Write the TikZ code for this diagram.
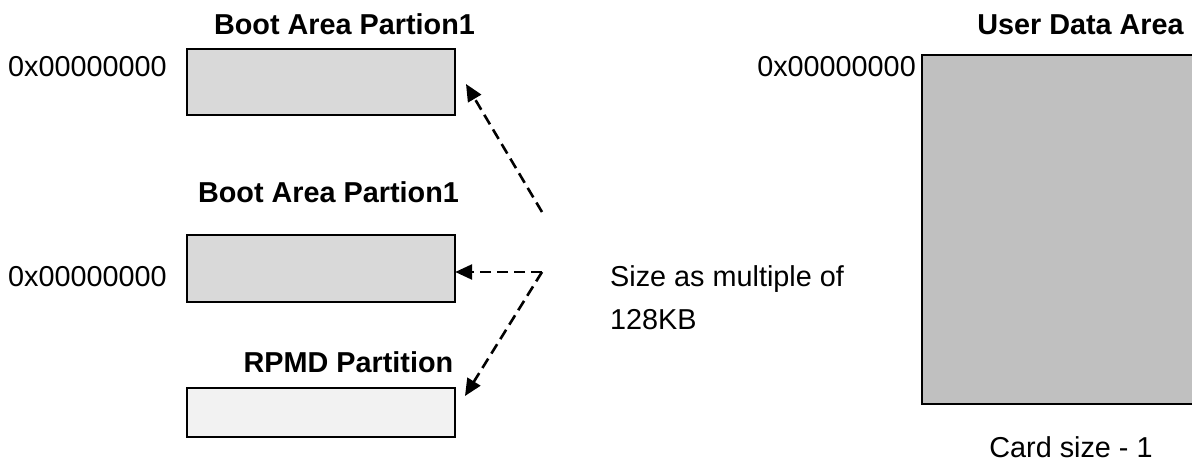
\documentclass[tikz,border=0pt]{standalone}
\usepackage{fontspec}
\setmainfont{Liberation Sans}
\usetikzlibrary{arrows.meta}
\tikzset{
  txt/.style={inner sep=0pt, font=\fontsize{28.8}{43}\selectfont},
  ttl/.style={txt, font=\fontsize{28.8}{43}\selectfont\bfseries},
  part/.style={draw=black, line width=1.6pt},
  link/.style={dash pattern=on 11pt off 6pt, line width=2.6pt,
    -{Triangle[length=17pt,width=15pt]}},
}
\begin{document}
\begin{tikzpicture}[x=1pt,y=-1pt]
\useasboundingbox (0,0) rectangle (1192,462);
\clip (0,0) rectangle (1192,462);
% boxes
\path[part, fill={rgb,255:red,217;green,217;blue,217}] (187,49) rectangle (455,115);
\node[inner sep=0pt, minimum width=268pt, minimum height=66pt] (b1) at (321,82) {};
\path[part, fill={rgb,255:red,217;green,217;blue,217}] (187,235) rectangle (455,302);
\node[inner sep=0pt, minimum width=268pt, minimum height=67pt] (b2) at (321,268.5) {};
\path[part, fill={rgb,255:red,242;green,242;blue,242}] (187,388) rectangle (455,437);
\node[inner sep=0pt, minimum width=268pt, minimum height=49pt] (b3) at (321,412.5) {};
\path[part, fill={rgb,255:red,192;green,192;blue,192}] (922,55) rectangle (1210,404);
\node[inner sep=0pt] (ud) at (1066,229.5) {};
% titles
\node[ttl, anchor=base] (t1) at (344.5,35) {Boot Area Partion1};
\node[ttl, anchor=base] (t2) at (328.5,203) {Boot Area Partion1};
\node[ttl, anchor=base] (t3) at (348.5,373) {RPMD Partition};
\node[ttl, anchor=base] (t4) at (1080.5,35) {User Data Area};
% address labels
\node[txt, anchor=base west] (a1) at (8,77) {0x00000000};
\node[txt, anchor=base west] (a2) at (8,287) {0x00000000};
\node[txt, anchor=base east] (a3) at (916,77) {0x00000000};
\node[txt, anchor=base] (cs) at (1071,457) {Card size - 1};
\node[txt, anchor=base west] (sz1) at (610,287) {Size as multiple of};
\node[txt, anchor=base west] (sz2) at (610,330) {128KB};
% connectors
\coordinate (s1) at (542,212);
\coordinate (s2) at (542,272);
\coordinate (e1) at (466,84);
\coordinate (e3) at (465,396);
\draw[link] (s1) -- (e1);
\draw[link] (s2) -- (s2 -| b2.east);
\draw[link] (s2) -- (e3);
\end{tikzpicture}
\end{document}
